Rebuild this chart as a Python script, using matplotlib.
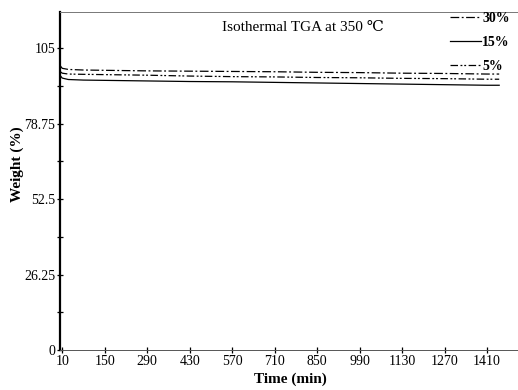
import matplotlib
matplotlib.use("Agg")
import matplotlib.pyplot as plt
import numpy as np

plt.rcParams['font.family'] = ['Liberation Serif', 'DejaVu Serif', 'DejaVu Sans']

# time (min) and weight (%)
time = [4, 10, 30, 80, 150, 290, 430, 570, 710, 850, 990, 1130, 1270, 1410, 1450]
w30 = [98.8, 98.0, 97.6, 97.4, 97.3, 97.1, 97.0, 96.9, 96.8, 96.6, 96.5, 96.3, 96.2, 96.0, 96.0]
w15 = [95.4, 94.6, 94.1, 93.9, 93.8, 93.6, 93.4, 93.3, 93.1, 92.9, 92.7, 92.5, 92.3, 92.1, 92.1]
w5 = [96.8, 96.3, 96.0, 95.9, 95.8, 95.6, 95.3, 95.1, 95.0, 94.8, 94.7, 94.5, 94.4, 94.2, 94.2]

xticks = [10, 150, 290, 430, 570, 710, 850, 990, 1130, 1270, 1410]
yticks = [0, 26.25, 52.5, 78.75, 105]
ylabels = ["0", "26.25", "52.5", "78.75", "105"]

fig = plt.figure(figsize=(5.18, 3.9), dpi=100)
ax = fig.add_axes([0.116, 0.1026, 0.884, 0.866])

ax.plot(time, w30, color="black", lw=0.9, ls=(0, (7, 2, 1.5, 2)), label="30%")
ax.plot(time, w15, color="black", lw=0.9, ls="-", label="15%")
ax.plot(time, w5, color="black", lw=0.9, ls=(0, (6, 2, 1.5, 1.5, 1.5, 2)), label="5%")

ax.set_xlim(3, 1512)
ax.set_ylim(0, 117.5)
ax.set_xticks(xticks)
ax.set_yticks(yticks)
ax.set_yticklabels(ylabels)
ax.set_yticks([13.125, 39.375, 65.625, 91.875], minor=True)
ax.tick_params(axis="both", which="both", direction="inout", labelsize=10, width=0.9)
ax.tick_params(axis="both", which="major", length=5)
ax.tick_params(axis="y", which="minor", length=4)
ax.tick_params(axis="x", pad=1)
ax.tick_params(axis="y", pad=1)

ax.spines["right"].set_visible(False)
ax.spines["left"].set_linewidth(1.6)
ax.spines["bottom"].set_linewidth(0.7)
ax.spines["bottom"].set_color("#555555")
ax.spines["top"].set_linewidth(0.7)
ax.spines["top"].set_color("#777777")

ax.set_xlabel("Time (min)", fontsize=11, fontweight="bold")
ax.set_ylabel("Weight (%)", fontsize=11, fontweight="bold")
ax.xaxis.set_label_coords(0.502, -0.066)
ax.yaxis.set_label_coords(-0.079, 0.55)

ax.text(0.53, 0.956, "Isothermal TGA at 350 ℃", transform=ax.transAxes,
        ha="center", va="center", fontsize=11)

leg = ax.legend(loc="upper right", bbox_to_anchor=(1.0, 1.025), frameon=False,
                prop={"size": 10, "weight": "bold"}, handlelength=2.2,
                handletextpad=0.1, labelspacing=0.8, borderaxespad=0.2)

fig.savefig("out.png", dpi=100)
